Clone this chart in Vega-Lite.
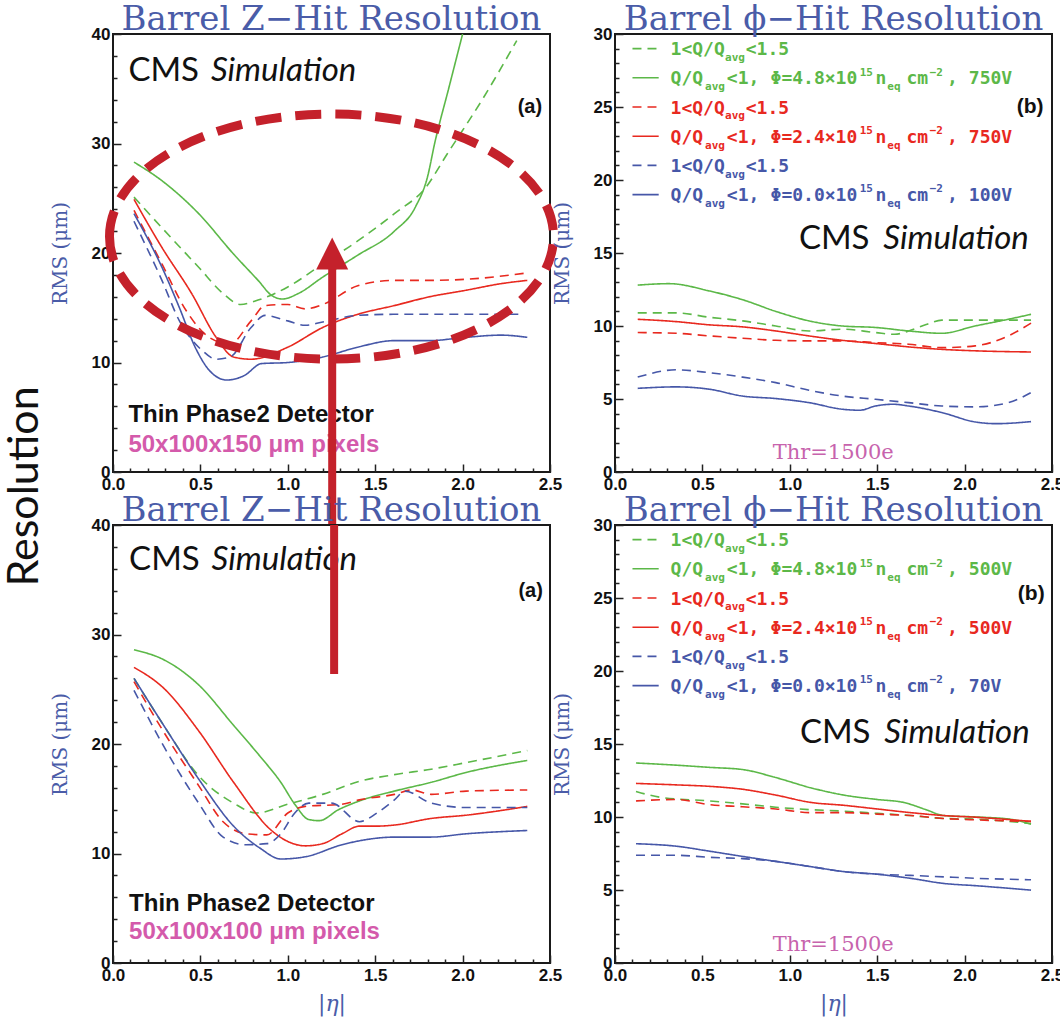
{
"$schema":"https://vega.github.io/schema/vega-lite/v6.json",
"background":"white",
"padding":{"left":4,"top":2,"right":0,"bottom":5},
"title":{"text":"Resolution","orient":"left","anchor":"middle","frame":"bounds","font":"Lato","fontSize":43,"fontWeight":"normal","color":"#111","offset":2,"dx":22},
"datasets":{
"curves":[
{"panel":"TL","dose":"4.8","charge":"lt","eta":0.12,"rms":28.3},{"panel":"TL","dose":"4.8","charge":"lt","eta":0.28,"rms":26.6},{"panel":"TL","dose":"4.8","charge":"lt","eta":0.49,"rms":23.6},{"panel":"TL","dose":"4.8","charge":"lt","eta":0.69,"rms":19.9},{"panel":"TL","dose":"4.8","charge":"lt","eta":0.83,"rms":17.5},{"panel":"TL","dose":"4.8","charge":"lt","eta":0.91,"rms":16.1},{"panel":"TL","dose":"4.8","charge":"lt","eta":0.97,"rms":15.8},{"panel":"TL","dose":"4.8","charge":"lt","eta":1.06,"rms":16.3},{"panel":"TL","dose":"4.8","charge":"lt","eta":1.2,"rms":17.8},{"panel":"TL","dose":"4.8","charge":"lt","eta":1.4,"rms":19.8},{"panel":"TL","dose":"4.8","charge":"lt","eta":1.61,"rms":22.0},{"panel":"TL","dose":"4.8","charge":"lt","eta":1.73,"rms":24.2},{"panel":"TL","dose":"4.8","charge":"lt","eta":1.8,"rms":27.0},{"panel":"TL","dose":"4.8","charge":"lt","eta":1.84,"rms":30.0},{"panel":"TL","dose":"4.8","charge":"lt","eta":1.92,"rms":35.0},{"panel":"TL","dose":"4.8","charge":"lt","eta":2.0,"rms":40.0},
{"panel":"TL","dose":"4.8","charge":"gt","eta":0.12,"rms":25.1},{"panel":"TL","dose":"4.8","charge":"gt","eta":0.28,"rms":22.3},{"panel":"TL","dose":"4.8","charge":"gt","eta":0.49,"rms":18.7},{"panel":"TL","dose":"4.8","charge":"gt","eta":0.63,"rms":16.3},{"panel":"TL","dose":"4.8","charge":"gt","eta":0.73,"rms":15.3},{"panel":"TL","dose":"4.8","charge":"gt","eta":0.83,"rms":15.7},{"panel":"TL","dose":"4.8","charge":"gt","eta":1.0,"rms":16.9},{"panel":"TL","dose":"4.8","charge":"gt","eta":1.2,"rms":19.0},{"panel":"TL","dose":"4.8","charge":"gt","eta":1.4,"rms":21.1},{"panel":"TL","dose":"4.8","charge":"gt","eta":1.61,"rms":23.6},{"panel":"TL","dose":"4.8","charge":"gt","eta":1.79,"rms":26.0},{"panel":"TL","dose":"4.8","charge":"gt","eta":1.91,"rms":29.0},{"panel":"TL","dose":"4.8","charge":"gt","eta":2.12,"rms":34.2},{"panel":"TL","dose":"4.8","charge":"gt","eta":2.31,"rms":39.4},
{"panel":"TL","dose":"2.4","charge":"lt","eta":0.12,"rms":24.9},{"panel":"TL","dose":"2.4","charge":"lt","eta":0.28,"rms":20.5},{"panel":"TL","dose":"2.4","charge":"lt","eta":0.45,"rms":16.3},{"panel":"TL","dose":"2.4","charge":"lt","eta":0.59,"rms":12.3},{"panel":"TL","dose":"2.4","charge":"lt","eta":0.69,"rms":10.5},{"panel":"TL","dose":"2.4","charge":"lt","eta":0.79,"rms":10.3},{"panel":"TL","dose":"2.4","charge":"lt","eta":1.0,"rms":11.4},{"panel":"TL","dose":"2.4","charge":"lt","eta":1.2,"rms":13.2},{"panel":"TL","dose":"2.4","charge":"lt","eta":1.4,"rms":14.4},{"panel":"TL","dose":"2.4","charge":"lt","eta":1.61,"rms":15.2},{"panel":"TL","dose":"2.4","charge":"lt","eta":1.81,"rms":16.0},{"panel":"TL","dose":"2.4","charge":"lt","eta":2.02,"rms":16.6},{"panel":"TL","dose":"2.4","charge":"lt","eta":2.22,"rms":17.2},{"panel":"TL","dose":"2.4","charge":"lt","eta":2.37,"rms":17.5},
{"panel":"TL","dose":"2.4","charge":"gt","eta":0.12,"rms":23.9},{"panel":"TL","dose":"2.4","charge":"gt","eta":0.28,"rms":19.0},{"panel":"TL","dose":"2.4","charge":"gt","eta":0.42,"rms":14.7},{"panel":"TL","dose":"2.4","charge":"gt","eta":0.55,"rms":12.3},{"panel":"TL","dose":"2.4","charge":"gt","eta":0.67,"rms":11.7},{"panel":"TL","dose":"2.4","charge":"gt","eta":0.79,"rms":13.8},{"panel":"TL","dose":"2.4","charge":"gt","eta":0.87,"rms":15.2},{"panel":"TL","dose":"2.4","charge":"gt","eta":1.0,"rms":15.3},{"panel":"TL","dose":"2.4","charge":"gt","eta":1.1,"rms":14.9},{"panel":"TL","dose":"2.4","charge":"gt","eta":1.2,"rms":15.3},{"panel":"TL","dose":"2.4","charge":"gt","eta":1.4,"rms":17.0},{"panel":"TL","dose":"2.4","charge":"gt","eta":1.61,"rms":17.5},{"panel":"TL","dose":"2.4","charge":"gt","eta":1.81,"rms":17.5},{"panel":"TL","dose":"2.4","charge":"gt","eta":2.02,"rms":17.6},{"panel":"TL","dose":"2.4","charge":"gt","eta":2.38,"rms":18.2},
{"panel":"TL","dose":"0.0","charge":"lt","eta":0.12,"rms":23.6},{"panel":"TL","dose":"0.0","charge":"lt","eta":0.28,"rms":18.7},{"panel":"TL","dose":"0.0","charge":"lt","eta":0.38,"rms":15.0},{"panel":"TL","dose":"0.0","charge":"lt","eta":0.47,"rms":11.4},{"panel":"TL","dose":"0.0","charge":"lt","eta":0.55,"rms":9.3},{"panel":"TL","dose":"0.0","charge":"lt","eta":0.65,"rms":8.4},{"panel":"TL","dose":"0.0","charge":"lt","eta":0.75,"rms":8.8},{"panel":"TL","dose":"0.0","charge":"lt","eta":0.85,"rms":9.9},{"panel":"TL","dose":"0.0","charge":"lt","eta":1.0,"rms":10.0},{"panel":"TL","dose":"0.0","charge":"lt","eta":1.2,"rms":10.5},{"panel":"TL","dose":"0.0","charge":"lt","eta":1.4,"rms":11.4},{"panel":"TL","dose":"0.0","charge":"lt","eta":1.61,"rms":12.0},{"panel":"TL","dose":"0.0","charge":"lt","eta":1.81,"rms":12.0},{"panel":"TL","dose":"0.0","charge":"lt","eta":2.02,"rms":12.3},{"panel":"TL","dose":"0.0","charge":"lt","eta":2.22,"rms":12.5},{"panel":"TL","dose":"0.0","charge":"lt","eta":2.37,"rms":12.3},
{"panel":"TL","dose":"0.0","charge":"gt","eta":0.12,"rms":22.9},{"panel":"TL","dose":"0.0","charge":"gt","eta":0.28,"rms":17.5},{"panel":"TL","dose":"0.0","charge":"gt","eta":0.38,"rms":13.8},{"panel":"TL","dose":"0.0","charge":"gt","eta":0.51,"rms":11.1},{"panel":"TL","dose":"0.0","charge":"gt","eta":0.59,"rms":10.3},{"panel":"TL","dose":"0.0","charge":"gt","eta":0.67,"rms":10.5},{"panel":"TL","dose":"0.0","charge":"gt","eta":0.79,"rms":13.2},{"panel":"TL","dose":"0.0","charge":"gt","eta":0.87,"rms":14.3},{"panel":"TL","dose":"0.0","charge":"gt","eta":1.0,"rms":13.8},{"panel":"TL","dose":"0.0","charge":"gt","eta":1.1,"rms":13.4},{"panel":"TL","dose":"0.0","charge":"gt","eta":1.2,"rms":13.7},{"panel":"TL","dose":"0.0","charge":"gt","eta":1.4,"rms":14.3},{"panel":"TL","dose":"0.0","charge":"gt","eta":1.61,"rms":14.4},{"panel":"TL","dose":"0.0","charge":"gt","eta":1.81,"rms":14.4},{"panel":"TL","dose":"0.0","charge":"gt","eta":2.02,"rms":14.4},{"panel":"TL","dose":"0.0","charge":"gt","eta":2.33,"rms":14.4},
{"panel":"TR","dose":"4.8","charge":"lt","eta":0.13,"rms":12.8},{"panel":"TR","dose":"4.8","charge":"lt","eta":0.31,"rms":12.9},{"panel":"TR","dose":"4.8","charge":"lt","eta":0.54,"rms":12.4},{"panel":"TR","dose":"4.8","charge":"lt","eta":0.73,"rms":11.8},{"panel":"TR","dose":"4.8","charge":"lt","eta":0.92,"rms":11.0},{"panel":"TR","dose":"4.8","charge":"lt","eta":1.11,"rms":10.35},{"panel":"TR","dose":"4.8","charge":"lt","eta":1.3,"rms":10.0},{"panel":"TR","dose":"4.8","charge":"lt","eta":1.49,"rms":9.9},{"panel":"TR","dose":"4.8","charge":"lt","eta":1.68,"rms":9.66},{"panel":"TR","dose":"4.8","charge":"lt","eta":1.87,"rms":9.5},{"panel":"TR","dose":"4.8","charge":"lt","eta":2.06,"rms":10.0},{"panel":"TR","dose":"4.8","charge":"lt","eta":2.25,"rms":10.46},{"panel":"TR","dose":"4.8","charge":"lt","eta":2.38,"rms":10.8},
{"panel":"TR","dose":"4.8","charge":"gt","eta":0.13,"rms":10.9},{"panel":"TR","dose":"4.8","charge":"gt","eta":0.35,"rms":10.9},{"panel":"TR","dose":"4.8","charge":"gt","eta":0.54,"rms":10.6},{"panel":"TR","dose":"4.8","charge":"gt","eta":0.73,"rms":10.35},{"panel":"TR","dose":"4.8","charge":"gt","eta":0.92,"rms":10.0},{"panel":"TR","dose":"4.8","charge":"gt","eta":1.11,"rms":9.66},{"panel":"TR","dose":"4.8","charge":"gt","eta":1.3,"rms":9.78},{"panel":"TR","dose":"4.8","charge":"gt","eta":1.49,"rms":9.55},{"panel":"TR","dose":"4.8","charge":"gt","eta":1.6,"rms":9.43},{"panel":"TR","dose":"4.8","charge":"gt","eta":1.68,"rms":9.66},{"panel":"TR","dose":"4.8","charge":"gt","eta":1.78,"rms":10.1},{"panel":"TR","dose":"4.8","charge":"gt","eta":1.87,"rms":10.4},{"panel":"TR","dose":"4.8","charge":"gt","eta":2.06,"rms":10.4},{"panel":"TR","dose":"4.8","charge":"gt","eta":2.38,"rms":10.4},
{"panel":"TR","dose":"2.4","charge":"lt","eta":0.13,"rms":10.46},{"panel":"TR","dose":"2.4","charge":"lt","eta":0.35,"rms":10.3},{"panel":"TR","dose":"2.4","charge":"lt","eta":0.54,"rms":10.08},{"panel":"TR","dose":"2.4","charge":"lt","eta":0.73,"rms":9.94},{"panel":"TR","dose":"2.4","charge":"lt","eta":0.92,"rms":9.66},{"panel":"TR","dose":"2.4","charge":"lt","eta":1.11,"rms":9.32},{"panel":"TR","dose":"2.4","charge":"lt","eta":1.3,"rms":9.02},{"panel":"TR","dose":"2.4","charge":"lt","eta":1.49,"rms":8.8},{"panel":"TR","dose":"2.4","charge":"lt","eta":1.68,"rms":8.57},{"panel":"TR","dose":"2.4","charge":"lt","eta":1.87,"rms":8.4},{"panel":"TR","dose":"2.4","charge":"lt","eta":2.06,"rms":8.3},{"panel":"TR","dose":"2.4","charge":"lt","eta":2.38,"rms":8.22},
{"panel":"TR","dose":"2.4","charge":"gt","eta":0.13,"rms":9.55},{"panel":"TR","dose":"2.4","charge":"gt","eta":0.35,"rms":9.5},{"panel":"TR","dose":"2.4","charge":"gt","eta":0.54,"rms":9.32},{"panel":"TR","dose":"2.4","charge":"gt","eta":0.73,"rms":9.16},{"panel":"TR","dose":"2.4","charge":"gt","eta":0.92,"rms":9.02},{"panel":"TR","dose":"2.4","charge":"gt","eta":1.11,"rms":8.98},{"panel":"TR","dose":"2.4","charge":"gt","eta":1.3,"rms":8.98},{"panel":"TR","dose":"2.4","charge":"gt","eta":1.49,"rms":8.86},{"panel":"TR","dose":"2.4","charge":"gt","eta":1.68,"rms":8.75},{"panel":"TR","dose":"2.4","charge":"gt","eta":1.87,"rms":8.52},{"panel":"TR","dose":"2.4","charge":"gt","eta":2.06,"rms":8.64},{"panel":"TR","dose":"2.4","charge":"gt","eta":2.25,"rms":9.32},{"panel":"TR","dose":"2.4","charge":"gt","eta":2.38,"rms":10.2},
{"panel":"TR","dose":"0.0","charge":"lt","eta":0.13,"rms":5.73},{"panel":"TR","dose":"0.0","charge":"lt","eta":0.35,"rms":5.83},{"panel":"TR","dose":"0.0","charge":"lt","eta":0.54,"rms":5.67},{"panel":"TR","dose":"0.0","charge":"lt","eta":0.73,"rms":5.2},{"panel":"TR","dose":"0.0","charge":"lt","eta":0.92,"rms":5.03},{"panel":"TR","dose":"0.0","charge":"lt","eta":1.11,"rms":4.75},{"panel":"TR","dose":"0.0","charge":"lt","eta":1.3,"rms":4.3},{"panel":"TR","dose":"0.0","charge":"lt","eta":1.4,"rms":4.23},{"panel":"TR","dose":"0.0","charge":"lt","eta":1.49,"rms":4.52},{"panel":"TR","dose":"0.0","charge":"lt","eta":1.59,"rms":4.64},{"panel":"TR","dose":"0.0","charge":"lt","eta":1.68,"rms":4.52},{"panel":"TR","dose":"0.0","charge":"lt","eta":1.87,"rms":4.07},{"panel":"TR","dose":"0.0","charge":"lt","eta":2.06,"rms":3.43},{"panel":"TR","dose":"0.0","charge":"lt","eta":2.18,"rms":3.31},{"panel":"TR","dose":"0.0","charge":"lt","eta":2.38,"rms":3.45},
{"panel":"TR","dose":"0.0","charge":"gt","eta":0.13,"rms":6.5},{"panel":"TR","dose":"0.0","charge":"gt","eta":0.35,"rms":7.0},{"panel":"TR","dose":"0.0","charge":"gt","eta":0.54,"rms":6.8},{"panel":"TR","dose":"0.0","charge":"gt","eta":0.73,"rms":6.5},{"panel":"TR","dose":"0.0","charge":"gt","eta":0.92,"rms":6.12},{"panel":"TR","dose":"0.0","charge":"gt","eta":1.11,"rms":5.6},{"panel":"TR","dose":"0.0","charge":"gt","eta":1.3,"rms":5.2},{"panel":"TR","dose":"0.0","charge":"gt","eta":1.49,"rms":4.98},{"panel":"TR","dose":"0.0","charge":"gt","eta":1.68,"rms":4.75},{"panel":"TR","dose":"0.0","charge":"gt","eta":1.87,"rms":4.52},{"panel":"TR","dose":"0.0","charge":"gt","eta":2.06,"rms":4.46},{"panel":"TR","dose":"0.0","charge":"gt","eta":2.25,"rms":4.75},{"panel":"TR","dose":"0.0","charge":"gt","eta":2.38,"rms":5.44},
{"panel":"BL","dose":"4.8","charge":"lt","eta":0.12,"rms":28.6},{"panel":"BL","dose":"4.8","charge":"lt","eta":0.29,"rms":27.7},{"panel":"BL","dose":"4.8","charge":"lt","eta":0.49,"rms":25.4},{"panel":"BL","dose":"4.8","charge":"lt","eta":0.69,"rms":21.7},{"panel":"BL","dose":"4.8","charge":"lt","eta":0.84,"rms":18.9},{"panel":"BL","dose":"4.8","charge":"lt","eta":0.96,"rms":16.5},{"panel":"BL","dose":"4.8","charge":"lt","eta":1.04,"rms":14.5},{"panel":"BL","dose":"4.8","charge":"lt","eta":1.12,"rms":13.1},{"panel":"BL","dose":"4.8","charge":"lt","eta":1.18,"rms":13.0},{"panel":"BL","dose":"4.8","charge":"lt","eta":1.29,"rms":14.0},{"panel":"BL","dose":"4.8","charge":"lt","eta":1.41,"rms":14.8},{"panel":"BL","dose":"4.8","charge":"lt","eta":1.61,"rms":15.7},{"panel":"BL","dose":"4.8","charge":"lt","eta":1.82,"rms":16.5},{"panel":"BL","dose":"4.8","charge":"lt","eta":2.02,"rms":17.4},{"panel":"BL","dose":"4.8","charge":"lt","eta":2.37,"rms":18.5},
{"panel":"BL","dose":"4.8","charge":"gt","eta":0.12,"rms":26.0},{"panel":"BL","dose":"4.8","charge":"gt","eta":0.29,"rms":21.7},{"panel":"BL","dose":"4.8","charge":"gt","eta":0.49,"rms":17.1},{"panel":"BL","dose":"4.8","charge":"gt","eta":0.69,"rms":14.6},{"panel":"BL","dose":"4.8","charge":"gt","eta":0.82,"rms":13.7},{"panel":"BL","dose":"4.8","charge":"gt","eta":1.0,"rms":14.5},{"panel":"BL","dose":"4.8","charge":"gt","eta":1.2,"rms":15.4},{"panel":"BL","dose":"4.8","charge":"gt","eta":1.41,"rms":16.6},{"panel":"BL","dose":"4.8","charge":"gt","eta":1.61,"rms":17.2},{"panel":"BL","dose":"4.8","charge":"gt","eta":1.82,"rms":17.7},{"panel":"BL","dose":"4.8","charge":"gt","eta":2.02,"rms":18.3},{"panel":"BL","dose":"4.8","charge":"gt","eta":2.37,"rms":19.4},
{"panel":"BL","dose":"2.4","charge":"lt","eta":0.12,"rms":27.0},{"panel":"BL","dose":"2.4","charge":"lt","eta":0.29,"rms":25.1},{"panel":"BL","dose":"2.4","charge":"lt","eta":0.49,"rms":21.2},{"panel":"BL","dose":"2.4","charge":"lt","eta":0.69,"rms":16.5},{"panel":"BL","dose":"2.4","charge":"lt","eta":0.9,"rms":12.2},{"panel":"BL","dose":"2.4","charge":"lt","eta":1.0,"rms":11.1},{"panel":"BL","dose":"2.4","charge":"lt","eta":1.1,"rms":10.7},{"panel":"BL","dose":"2.4","charge":"lt","eta":1.2,"rms":10.9},{"panel":"BL","dose":"2.4","charge":"lt","eta":1.31,"rms":11.8},{"panel":"BL","dose":"2.4","charge":"lt","eta":1.41,"rms":12.5},{"panel":"BL","dose":"2.4","charge":"lt","eta":1.51,"rms":12.5},{"panel":"BL","dose":"2.4","charge":"lt","eta":1.61,"rms":12.6},{"panel":"BL","dose":"2.4","charge":"lt","eta":1.82,"rms":13.2},{"panel":"BL","dose":"2.4","charge":"lt","eta":2.02,"rms":13.5},{"panel":"BL","dose":"2.4","charge":"lt","eta":2.37,"rms":14.3},
{"panel":"BL","dose":"2.4","charge":"gt","eta":0.12,"rms":25.7},{"panel":"BL","dose":"2.4","charge":"gt","eta":0.29,"rms":21.1},{"panel":"BL","dose":"2.4","charge":"gt","eta":0.49,"rms":16.2},{"panel":"BL","dose":"2.4","charge":"gt","eta":0.63,"rms":12.9},{"panel":"BL","dose":"2.4","charge":"gt","eta":0.76,"rms":11.8},{"panel":"BL","dose":"2.4","charge":"gt","eta":0.88,"rms":11.7},{"panel":"BL","dose":"2.4","charge":"gt","eta":1.0,"rms":13.7},{"panel":"BL","dose":"2.4","charge":"gt","eta":1.1,"rms":14.3},{"panel":"BL","dose":"2.4","charge":"gt","eta":1.31,"rms":14.5},{"panel":"BL","dose":"2.4","charge":"gt","eta":1.41,"rms":14.9},{"panel":"BL","dose":"2.4","charge":"gt","eta":1.61,"rms":15.4},{"panel":"BL","dose":"2.4","charge":"gt","eta":1.71,"rms":15.8},{"panel":"BL","dose":"2.4","charge":"gt","eta":1.82,"rms":15.4},{"panel":"BL","dose":"2.4","charge":"gt","eta":2.02,"rms":15.7},{"panel":"BL","dose":"2.4","charge":"gt","eta":2.37,"rms":15.8},
{"panel":"BL","dose":"0.0","charge":"lt","eta":0.12,"rms":26.0},{"panel":"BL","dose":"0.0","charge":"lt","eta":0.29,"rms":21.7},{"panel":"BL","dose":"0.0","charge":"lt","eta":0.49,"rms":16.8},{"panel":"BL","dose":"0.0","charge":"lt","eta":0.69,"rms":12.5},{"panel":"BL","dose":"0.0","charge":"lt","eta":0.84,"rms":10.5},{"panel":"BL","dose":"0.0","charge":"lt","eta":0.96,"rms":9.5},{"panel":"BL","dose":"0.0","charge":"lt","eta":1.1,"rms":9.7},{"panel":"BL","dose":"0.0","charge":"lt","eta":1.31,"rms":10.8},{"panel":"BL","dose":"0.0","charge":"lt","eta":1.51,"rms":11.4},{"panel":"BL","dose":"0.0","charge":"lt","eta":1.61,"rms":11.5},{"panel":"BL","dose":"0.0","charge":"lt","eta":1.82,"rms":11.5},{"panel":"BL","dose":"0.0","charge":"lt","eta":2.02,"rms":11.8},{"panel":"BL","dose":"0.0","charge":"lt","eta":2.37,"rms":12.1},
{"panel":"BL","dose":"0.0","charge":"gt","eta":0.12,"rms":24.9},{"panel":"BL","dose":"0.0","charge":"gt","eta":0.29,"rms":19.8},{"panel":"BL","dose":"0.0","charge":"gt","eta":0.49,"rms":14.6},{"panel":"BL","dose":"0.0","charge":"gt","eta":0.63,"rms":11.5},{"panel":"BL","dose":"0.0","charge":"gt","eta":0.76,"rms":10.8},{"panel":"BL","dose":"0.0","charge":"gt","eta":0.88,"rms":10.9},{"panel":"BL","dose":"0.0","charge":"gt","eta":0.96,"rms":11.8},{"panel":"BL","dose":"0.0","charge":"gt","eta":1.04,"rms":13.7},{"panel":"BL","dose":"0.0","charge":"gt","eta":1.12,"rms":14.6},{"panel":"BL","dose":"0.0","charge":"gt","eta":1.25,"rms":14.6},{"panel":"BL","dose":"0.0","charge":"gt","eta":1.41,"rms":12.9},{"panel":"BL","dose":"0.0","charge":"gt","eta":1.51,"rms":13.7},{"panel":"BL","dose":"0.0","charge":"gt","eta":1.61,"rms":14.9},{"panel":"BL","dose":"0.0","charge":"gt","eta":1.67,"rms":15.7},{"panel":"BL","dose":"0.0","charge":"gt","eta":1.82,"rms":14.6},{"panel":"BL","dose":"0.0","charge":"gt","eta":2.02,"rms":14.2},{"panel":"BL","dose":"0.0","charge":"gt","eta":2.37,"rms":14.2},
{"panel":"BR","dose":"4.8","charge":"lt","eta":0.12,"rms":13.7},{"panel":"BR","dose":"4.8","charge":"lt","eta":0.35,"rms":13.55},{"panel":"BR","dose":"4.8","charge":"lt","eta":0.54,"rms":13.4},{"panel":"BR","dose":"4.8","charge":"lt","eta":0.73,"rms":13.25},{"panel":"BR","dose":"4.8","charge":"lt","eta":0.92,"rms":12.7},{"panel":"BR","dose":"4.8","charge":"lt","eta":1.12,"rms":12.0},{"panel":"BR","dose":"4.8","charge":"lt","eta":1.31,"rms":11.5},{"panel":"BR","dose":"4.8","charge":"lt","eta":1.5,"rms":11.2},{"panel":"BR","dose":"4.8","charge":"lt","eta":1.65,"rms":11.0},{"panel":"BR","dose":"4.8","charge":"lt","eta":1.78,"rms":10.5},{"panel":"BR","dose":"4.8","charge":"lt","eta":1.88,"rms":10.1},{"panel":"BR","dose":"4.8","charge":"lt","eta":2.07,"rms":10.0},{"panel":"BR","dose":"4.8","charge":"lt","eta":2.26,"rms":9.85},{"panel":"BR","dose":"4.8","charge":"lt","eta":2.38,"rms":9.5},
{"panel":"BR","dose":"4.8","charge":"gt","eta":0.12,"rms":11.75},{"panel":"BR","dose":"4.8","charge":"gt","eta":0.26,"rms":11.35},{"panel":"BR","dose":"4.8","charge":"gt","eta":0.54,"rms":11.1},{"panel":"BR","dose":"4.8","charge":"gt","eta":0.73,"rms":10.9},{"panel":"BR","dose":"4.8","charge":"gt","eta":0.92,"rms":10.67},{"panel":"BR","dose":"4.8","charge":"gt","eta":1.12,"rms":10.5},{"panel":"BR","dose":"4.8","charge":"gt","eta":1.31,"rms":10.4},{"panel":"BR","dose":"4.8","charge":"gt","eta":1.5,"rms":10.25},{"panel":"BR","dose":"4.8","charge":"gt","eta":1.69,"rms":10.1},{"panel":"BR","dose":"4.8","charge":"gt","eta":1.88,"rms":9.9},{"panel":"BR","dose":"4.8","charge":"gt","eta":2.07,"rms":9.85},{"panel":"BR","dose":"4.8","charge":"gt","eta":2.38,"rms":9.55},
{"panel":"BR","dose":"2.4","charge":"lt","eta":0.12,"rms":12.3},{"panel":"BR","dose":"2.4","charge":"lt","eta":0.35,"rms":12.2},{"panel":"BR","dose":"2.4","charge":"lt","eta":0.54,"rms":12.1},{"panel":"BR","dose":"2.4","charge":"lt","eta":0.73,"rms":11.9},{"panel":"BR","dose":"2.4","charge":"lt","eta":0.92,"rms":11.5},{"panel":"BR","dose":"2.4","charge":"lt","eta":1.12,"rms":11.0},{"panel":"BR","dose":"2.4","charge":"lt","eta":1.31,"rms":10.8},{"panel":"BR","dose":"2.4","charge":"lt","eta":1.5,"rms":10.55},{"panel":"BR","dose":"2.4","charge":"lt","eta":1.69,"rms":10.3},{"panel":"BR","dose":"2.4","charge":"lt","eta":1.88,"rms":10.1},{"panel":"BR","dose":"2.4","charge":"lt","eta":2.07,"rms":9.98},{"panel":"BR","dose":"2.4","charge":"lt","eta":2.38,"rms":9.7},
{"panel":"BR","dose":"2.4","charge":"gt","eta":0.12,"rms":11.1},{"panel":"BR","dose":"2.4","charge":"gt","eta":0.35,"rms":11.2},{"panel":"BR","dose":"2.4","charge":"gt","eta":0.54,"rms":10.85},{"panel":"BR","dose":"2.4","charge":"gt","eta":0.73,"rms":10.7},{"panel":"BR","dose":"2.4","charge":"gt","eta":0.92,"rms":10.55},{"panel":"BR","dose":"2.4","charge":"gt","eta":1.12,"rms":10.3},{"panel":"BR","dose":"2.4","charge":"gt","eta":1.31,"rms":10.3},{"panel":"BR","dose":"2.4","charge":"gt","eta":1.5,"rms":10.2},{"panel":"BR","dose":"2.4","charge":"gt","eta":1.69,"rms":10.1},{"panel":"BR","dose":"2.4","charge":"gt","eta":1.88,"rms":9.9},{"panel":"BR","dose":"2.4","charge":"gt","eta":2.07,"rms":9.8},{"panel":"BR","dose":"2.4","charge":"gt","eta":2.38,"rms":9.7},
{"panel":"BR","dose":"0.0","charge":"lt","eta":0.12,"rms":8.17},{"panel":"BR","dose":"0.0","charge":"lt","eta":0.35,"rms":8.0},{"panel":"BR","dose":"0.0","charge":"lt","eta":0.54,"rms":7.66},{"panel":"BR","dose":"0.0","charge":"lt","eta":0.73,"rms":7.3},{"panel":"BR","dose":"0.0","charge":"lt","eta":0.92,"rms":6.96},{"panel":"BR","dose":"0.0","charge":"lt","eta":1.12,"rms":6.6},{"panel":"BR","dose":"0.0","charge":"lt","eta":1.31,"rms":6.26},{"panel":"BR","dose":"0.0","charge":"lt","eta":1.5,"rms":6.08},{"panel":"BR","dose":"0.0","charge":"lt","eta":1.69,"rms":5.8},{"panel":"BR","dose":"0.0","charge":"lt","eta":1.88,"rms":5.45},{"panel":"BR","dose":"0.0","charge":"lt","eta":2.07,"rms":5.29},{"panel":"BR","dose":"0.0","charge":"lt","eta":2.38,"rms":4.99},
{"panel":"BR","dose":"0.0","charge":"gt","eta":0.12,"rms":7.38},{"panel":"BR","dose":"0.0","charge":"gt","eta":0.35,"rms":7.38},{"panel":"BR","dose":"0.0","charge":"gt","eta":0.54,"rms":7.24},{"panel":"BR","dose":"0.0","charge":"gt","eta":0.73,"rms":7.15},{"panel":"BR","dose":"0.0","charge":"gt","eta":0.92,"rms":6.96},{"panel":"BR","dose":"0.0","charge":"gt","eta":1.12,"rms":6.6},{"panel":"BR","dose":"0.0","charge":"gt","eta":1.31,"rms":6.26},{"panel":"BR","dose":"0.0","charge":"gt","eta":1.5,"rms":6.08},{"panel":"BR","dose":"0.0","charge":"gt","eta":1.69,"rms":6.0},{"panel":"BR","dose":"0.0","charge":"gt","eta":1.88,"rms":5.9},{"panel":"BR","dose":"0.0","charge":"gt","eta":2.07,"rms":5.8},{"panel":"BR","dose":"0.0","charge":"gt","eta":2.38,"rms":5.7}
],
"keys":[
{"panel":"TR","dose":"4.8","charge":"gt","eta":0.1,"rms":29},{"panel":"TR","dose":"4.8","charge":"gt","eta":0.25,"rms":29},
{"panel":"TR","dose":"4.8","charge":"lt","eta":0.1,"rms":27},{"panel":"TR","dose":"4.8","charge":"lt","eta":0.25,"rms":27},
{"panel":"TR","dose":"2.4","charge":"gt","eta":0.1,"rms":25},{"panel":"TR","dose":"2.4","charge":"gt","eta":0.25,"rms":25},
{"panel":"TR","dose":"2.4","charge":"lt","eta":0.1,"rms":23},{"panel":"TR","dose":"2.4","charge":"lt","eta":0.25,"rms":23},
{"panel":"TR","dose":"0.0","charge":"gt","eta":0.1,"rms":21},{"panel":"TR","dose":"0.0","charge":"gt","eta":0.25,"rms":21},
{"panel":"TR","dose":"0.0","charge":"lt","eta":0.1,"rms":19},{"panel":"TR","dose":"0.0","charge":"lt","eta":0.25,"rms":19},
{"panel":"BR","dose":"4.8","charge":"gt","eta":0.1,"rms":29},{"panel":"BR","dose":"4.8","charge":"gt","eta":0.25,"rms":29},
{"panel":"BR","dose":"4.8","charge":"lt","eta":0.1,"rms":27},{"panel":"BR","dose":"4.8","charge":"lt","eta":0.25,"rms":27},
{"panel":"BR","dose":"2.4","charge":"gt","eta":0.1,"rms":25},{"panel":"BR","dose":"2.4","charge":"gt","eta":0.25,"rms":25},
{"panel":"BR","dose":"2.4","charge":"lt","eta":0.1,"rms":23},{"panel":"BR","dose":"2.4","charge":"lt","eta":0.25,"rms":23},
{"panel":"BR","dose":"0.0","charge":"gt","eta":0.1,"rms":21},{"panel":"BR","dose":"0.0","charge":"gt","eta":0.25,"rms":21},
{"panel":"BR","dose":"0.0","charge":"lt","eta":0.1,"rms":19},{"panel":"BR","dose":"0.0","charge":"lt","eta":0.25,"rms":19}
],
"keytext":[
{"panel":"TR","dose":"4.8","kind":"main","eta":0.318,"rms":28.55,"label":"1<Q/Q"},{"panel":"TR","dose":"4.8","kind":"small","eta":0.63,"rms":28.15,"label":"avg"},{"panel":"TR","dose":"4.8","kind":"main","eta":0.748,"rms":28.55,"label":"<1.5"},
{"panel":"TR","dose":"4.8","kind":"main","eta":0.318,"rms":26.55,"label":"Q/Q"},{"panel":"TR","dose":"4.8","kind":"small","eta":0.515,"rms":26.15,"label":"avg"},{"panel":"TR","dose":"4.8","kind":"main","eta":0.64,"rms":26.55,"label":"<1,"},{"panel":"TR","dose":"4.8","kind":"main","eta":0.89,"rms":26.55,"label":"Φ=4.8×10"},{"panel":"TR","dose":"4.8","kind":"small","eta":1.4,"rms":27.15,"label":"15"},{"panel":"TR","dose":"4.8","kind":"main","eta":1.49,"rms":26.55,"label":"n"},{"panel":"TR","dose":"4.8","kind":"small","eta":1.558,"rms":26.15,"label":"eq"},{"panel":"TR","dose":"4.8","kind":"main","eta":1.667,"rms":26.55,"label":"cm"},{"panel":"TR","dose":"4.8","kind":"small","eta":1.8,"rms":27.15,"label":"−2"},{"panel":"TR","dose":"4.8","kind":"main","eta":1.9,"rms":26.55,"label":", 750V"},
{"panel":"TR","dose":"2.4","kind":"main","eta":0.318,"rms":24.55,"label":"1<Q/Q"},{"panel":"TR","dose":"2.4","kind":"small","eta":0.63,"rms":24.15,"label":"avg"},{"panel":"TR","dose":"2.4","kind":"main","eta":0.748,"rms":24.55,"label":"<1.5"},
{"panel":"TR","dose":"2.4","kind":"main","eta":0.318,"rms":22.55,"label":"Q/Q"},{"panel":"TR","dose":"2.4","kind":"small","eta":0.515,"rms":22.15,"label":"avg"},{"panel":"TR","dose":"2.4","kind":"main","eta":0.64,"rms":22.55,"label":"<1,"},{"panel":"TR","dose":"2.4","kind":"main","eta":0.89,"rms":22.55,"label":"Φ=2.4×10"},{"panel":"TR","dose":"2.4","kind":"small","eta":1.4,"rms":23.15,"label":"15"},{"panel":"TR","dose":"2.4","kind":"main","eta":1.49,"rms":22.55,"label":"n"},{"panel":"TR","dose":"2.4","kind":"small","eta":1.558,"rms":22.15,"label":"eq"},{"panel":"TR","dose":"2.4","kind":"main","eta":1.667,"rms":22.55,"label":"cm"},{"panel":"TR","dose":"2.4","kind":"small","eta":1.8,"rms":23.15,"label":"−2"},{"panel":"TR","dose":"2.4","kind":"main","eta":1.9,"rms":22.55,"label":", 750V"},
{"panel":"TR","dose":"0.0","kind":"main","eta":0.318,"rms":20.55,"label":"1<Q/Q"},{"panel":"TR","dose":"0.0","kind":"small","eta":0.63,"rms":20.15,"label":"avg"},{"panel":"TR","dose":"0.0","kind":"main","eta":0.748,"rms":20.55,"label":"<1.5"},
{"panel":"TR","dose":"0.0","kind":"main","eta":0.318,"rms":18.55,"label":"Q/Q"},{"panel":"TR","dose":"0.0","kind":"small","eta":0.515,"rms":18.15,"label":"avg"},{"panel":"TR","dose":"0.0","kind":"main","eta":0.64,"rms":18.55,"label":"<1,"},{"panel":"TR","dose":"0.0","kind":"main","eta":0.89,"rms":18.55,"label":"Φ=0.0×10"},{"panel":"TR","dose":"0.0","kind":"small","eta":1.4,"rms":19.15,"label":"15"},{"panel":"TR","dose":"0.0","kind":"main","eta":1.49,"rms":18.55,"label":"n"},{"panel":"TR","dose":"0.0","kind":"small","eta":1.558,"rms":18.15,"label":"eq"},{"panel":"TR","dose":"0.0","kind":"main","eta":1.667,"rms":18.55,"label":"cm"},{"panel":"TR","dose":"0.0","kind":"small","eta":1.8,"rms":19.15,"label":"−2"},{"panel":"TR","dose":"0.0","kind":"main","eta":1.9,"rms":18.55,"label":", 100V"},
{"panel":"BR","dose":"4.8","kind":"main","eta":0.318,"rms":28.55,"label":"1<Q/Q"},{"panel":"BR","dose":"4.8","kind":"small","eta":0.63,"rms":28.15,"label":"avg"},{"panel":"BR","dose":"4.8","kind":"main","eta":0.748,"rms":28.55,"label":"<1.5"},
{"panel":"BR","dose":"4.8","kind":"main","eta":0.318,"rms":26.55,"label":"Q/Q"},{"panel":"BR","dose":"4.8","kind":"small","eta":0.515,"rms":26.15,"label":"avg"},{"panel":"BR","dose":"4.8","kind":"main","eta":0.64,"rms":26.55,"label":"<1,"},{"panel":"BR","dose":"4.8","kind":"main","eta":0.89,"rms":26.55,"label":"Φ=4.8×10"},{"panel":"BR","dose":"4.8","kind":"small","eta":1.4,"rms":27.15,"label":"15"},{"panel":"BR","dose":"4.8","kind":"main","eta":1.49,"rms":26.55,"label":"n"},{"panel":"BR","dose":"4.8","kind":"small","eta":1.558,"rms":26.15,"label":"eq"},{"panel":"BR","dose":"4.8","kind":"main","eta":1.667,"rms":26.55,"label":"cm"},{"panel":"BR","dose":"4.8","kind":"small","eta":1.8,"rms":27.15,"label":"−2"},{"panel":"BR","dose":"4.8","kind":"main","eta":1.9,"rms":26.55,"label":", 500V"},
{"panel":"BR","dose":"2.4","kind":"main","eta":0.318,"rms":24.55,"label":"1<Q/Q"},{"panel":"BR","dose":"2.4","kind":"small","eta":0.63,"rms":24.15,"label":"avg"},{"panel":"BR","dose":"2.4","kind":"main","eta":0.748,"rms":24.55,"label":"<1.5"},
{"panel":"BR","dose":"2.4","kind":"main","eta":0.318,"rms":22.55,"label":"Q/Q"},{"panel":"BR","dose":"2.4","kind":"small","eta":0.515,"rms":22.15,"label":"avg"},{"panel":"BR","dose":"2.4","kind":"main","eta":0.64,"rms":22.55,"label":"<1,"},{"panel":"BR","dose":"2.4","kind":"main","eta":0.89,"rms":22.55,"label":"Φ=2.4×10"},{"panel":"BR","dose":"2.4","kind":"small","eta":1.4,"rms":23.15,"label":"15"},{"panel":"BR","dose":"2.4","kind":"main","eta":1.49,"rms":22.55,"label":"n"},{"panel":"BR","dose":"2.4","kind":"small","eta":1.558,"rms":22.15,"label":"eq"},{"panel":"BR","dose":"2.4","kind":"main","eta":1.667,"rms":22.55,"label":"cm"},{"panel":"BR","dose":"2.4","kind":"small","eta":1.8,"rms":23.15,"label":"−2"},{"panel":"BR","dose":"2.4","kind":"main","eta":1.9,"rms":22.55,"label":", 500V"},
{"panel":"BR","dose":"0.0","kind":"main","eta":0.318,"rms":20.55,"label":"1<Q/Q"},{"panel":"BR","dose":"0.0","kind":"small","eta":0.63,"rms":20.15,"label":"avg"},{"panel":"BR","dose":"0.0","kind":"main","eta":0.748,"rms":20.55,"label":"<1.5"},
{"panel":"BR","dose":"0.0","kind":"main","eta":0.318,"rms":18.55,"label":"Q/Q"},{"panel":"BR","dose":"0.0","kind":"small","eta":0.515,"rms":18.15,"label":"avg"},{"panel":"BR","dose":"0.0","kind":"main","eta":0.64,"rms":18.55,"label":"<1,"},{"panel":"BR","dose":"0.0","kind":"main","eta":0.89,"rms":18.55,"label":"Φ=0.0×10"},{"panel":"BR","dose":"0.0","kind":"small","eta":1.4,"rms":19.15,"label":"15"},{"panel":"BR","dose":"0.0","kind":"main","eta":1.49,"rms":18.55,"label":"n"},{"panel":"BR","dose":"0.0","kind":"small","eta":1.558,"rms":18.15,"label":"eq"},{"panel":"BR","dose":"0.0","kind":"main","eta":1.667,"rms":18.55,"label":"cm"},{"panel":"BR","dose":"0.0","kind":"small","eta":1.8,"rms":19.15,"label":"−2"},{"panel":"BR","dose":"0.0","kind":"main","eta":1.9,"rms":18.55,"label":", 70V"}
]
},
"columns":2,
"spacing":{"row":53,"column":65},
"bounds":"flush",
"concat":[
{
"width":437,"height":438,
"title":{"text":"Barrel Z−Hit Resolution"},
"encoding":{
"x":{"field":"eta","type":"quantitative","scale":{"domain":[0,2.5],"nice":false,"zero":false},"axis":{"values":[0,0.1,0.2,0.3,0.4,0.5,0.6,0.7,0.8,0.9,1,1.1,1.2,1.3,1.4,1.5,1.6,1.7,1.8,1.9,2,2.1,2.2,2.3,2.4,2.5],"labelExpr":"abs(datum.value*2-round(datum.value*2))<0.01 ? format(datum.value,'.1f') : ''","tickSize":{"condition":{"test":"abs(datum.value*2-round(datum.value*2))<0.01","value":-8},"value":-4},"labelPadding":12,"labelFlush":false,"labelOverlap":false,"title":null}},
"y":{"field":"rms","type":"quantitative","scale":{"domain":[0,40],"nice":false,"zero":false},"axis":{"values":[0,2,4,6,8,10,12,14,16,18,20,22,24,26,28,30,32,34,36,38,40],"labelExpr":"datum.value%10===0 ? format(datum.value,'d') : ''","tickSize":{"condition":{"test":"datum.value%10===0","value":-8},"value":-4},"labelPadding":11,"labelFlush":false,"labelOverlap":false,"title":"RMS (μm)","titlePadding":21}}
},
"layer":[
{"data":{"name":"curves"},"transform":[{"filter":"datum.panel==='TL'"}],"mark":{"type":"line","interpolate":"monotone","strokeWidth":1.6,"clip":true},"encoding":{"color":{"field":"dose","type":"nominal","scale":{"domain":["4.8","2.4","0.0"],"range":["#5cb848","#e8291f","#4657a8"]},"legend":null},"strokeDash":{"field":"charge","type":"nominal","scale":{"domain":["lt","gt"],"range":[[1,0],[9,6]]},"legend":null}}},
{"data":{"values":[{"eta":0.088,"rms":35.7,"label":"CMS"}]},"mark":{"type":"text","font":"Lato","fontSize":33,"align":"left","baseline":"alphabetic","color":"#111"},"encoding":{"text":{"field":"label","type":"nominal"}}},
{"data":{"values":[{"eta":0.56,"rms":35.7,"label":"Simulation"}]},"mark":{"type":"text","font":"Lato","fontSize":33,"fontStyle":"italic","align":"left","baseline":"alphabetic","color":"#111"},"encoding":{"text":{"field":"label","type":"nominal"}}},
{"data":{"values":[{"eta":2.455,"rms":33.3,"label":"(a)"}]},"mark":{"type":"text","font":"Liberation Sans","fontSize":20,"fontWeight":"bold","align":"right","baseline":"middle","color":"#111"},"encoding":{"text":{"field":"label","type":"nominal"}}},
{"data":{"values":[{"eta":0.088,"rms":4.56,"label":"Thin Phase2 Detector"}]},"mark":{"type":"text","font":"Liberation Sans","fontSize":24,"fontWeight":"bold","align":"left","baseline":"alphabetic","color":"#111"},"encoding":{"text":{"field":"label","type":"nominal"}}},
{"data":{"values":[{"eta":0.088,"rms":1.82,"label":"50x100x150 μm pixels"}]},"mark":{"type":"text","font":"Liberation Sans","fontSize":24,"fontWeight":"bold","align":"left","baseline":"alphabetic","color":"#d45aab"},"encoding":{"text":{"field":"label","type":"nominal"}}},
{"data":{"values":[{"eta":1.25,"rms":21.5}]},"mark":{"type":"point","shape":"M -1 0 C -1 -0.305 -0.552 -0.552 0 -0.552 C 0.552 -0.552 1 -0.305 1 0 C 1 0.305 0.552 0.552 0 0.552 C -0.552 0.552 -1 0.305 -1 0 Z","size":197136,"filled":false,"stroke":"#c4212b","strokeWidth":9,"strokeDash":[26,14],"opacity":1}},
{"data":{"values":[{"eta":1.254,"rms":-4.9,"rms2":18.9}]},"mark":{"type":"rule","strokeWidth":8,"color":"#c4212b"},"encoding":{"y2":{"field":"rms2"}}},
{"data":{"values":[{"eta":1.254,"rms":19.95}]},"mark":{"type":"point","shape":"M 0 -1 L 1 1 L -1 1 Z","size":1024,"filled":true,"color":"#c4212b","opacity":1}}
]
},
{
"width":437,"height":438,
"title":{"text":"Barrel ϕ−Hit Resolution"},
"encoding":{
"x":{"field":"eta","type":"quantitative","scale":{"domain":[0,2.5],"nice":false,"zero":false},"axis":{"values":[0,0.1,0.2,0.3,0.4,0.5,0.6,0.7,0.8,0.9,1,1.1,1.2,1.3,1.4,1.5,1.6,1.7,1.8,1.9,2,2.1,2.2,2.3,2.4,2.5],"labelExpr":"abs(datum.value*2-round(datum.value*2))<0.01 ? format(datum.value,'.1f') : ''","tickSize":{"condition":{"test":"abs(datum.value*2-round(datum.value*2))<0.01","value":-8},"value":-4},"labelPadding":12,"labelFlush":false,"labelOverlap":false,"title":null}},
"y":{"field":"rms","type":"quantitative","scale":{"domain":[0,30],"nice":false,"zero":false},"axis":{"values":[0,1,2,3,4,5,6,7,8,9,10,11,12,13,14,15,16,17,18,19,20,21,22,23,24,25,26,27,28,29,30],"labelExpr":"datum.value%5===0 ? format(datum.value,'d') : ''","tickSize":{"condition":{"test":"datum.value%5===0","value":-8},"value":-4},"labelPadding":11,"labelFlush":false,"labelOverlap":false,"title":"RMS (μm)","titlePadding":21}}
},
"layer":[
{"data":{"name":"curves"},"transform":[{"filter":"datum.panel==='TR'"}],"mark":{"type":"line","interpolate":"monotone","strokeWidth":1.6,"clip":true},"encoding":{"color":{"field":"dose","type":"nominal","scale":{"domain":["4.8","2.4","0.0"],"range":["#5cb848","#e8291f","#4657a8"]},"legend":null},"strokeDash":{"field":"charge","type":"nominal","scale":{"domain":["lt","gt"],"range":[[1,0],[9,6]]},"legend":null}}},
{"data":{"name":"keys"},"transform":[{"filter":"datum.panel==='TR'"}],"mark":{"type":"line","strokeWidth":1.6},"encoding":{"color":{"field":"dose","type":"nominal","legend":null},"strokeDash":{"field":"charge","type":"nominal","legend":null}}},
{"data":{"name":"keytext"},"transform":[{"filter":"datum.panel==='TR'"}],"mark":{"type":"text","font":"DejaVu Sans Mono","fontWeight":"bold","align":"left","baseline":"alphabetic"},"encoding":{"text":{"field":"label","type":"nominal"},"color":{"field":"dose","type":"nominal","legend":null},"size":{"field":"kind","type":"nominal","scale":{"domain":["main","small"],"range":[18,11]},"legend":null}}},
{"data":{"values":[{"eta":1.052,"rms":15.26,"label":"CMS"}]},"mark":{"type":"text","font":"Lato","fontSize":33,"align":"left","baseline":"alphabetic","color":"#111"},"encoding":{"text":{"field":"label","type":"nominal"}}},
{"data":{"values":[{"eta":1.535,"rms":15.26,"label":"Simulation"}]},"mark":{"type":"text","font":"Lato","fontSize":33,"fontStyle":"italic","align":"left","baseline":"alphabetic","color":"#111"},"encoding":{"text":{"field":"label","type":"nominal"}}},
{"data":{"values":[{"eta":2.452,"rms":25.0,"label":"(b)"}]},"mark":{"type":"text","font":"Liberation Sans","fontSize":21,"fontWeight":"bold","align":"right","baseline":"middle","color":"#111"},"encoding":{"text":{"field":"label","type":"nominal"}}},
{"data":{"values":[{"eta":1.248,"rms":0.87,"label":"Thr=1500e"}]},"mark":{"type":"text","font":"DejaVu Serif","fontSize":21,"align":"center","baseline":"alphabetic","color":"#c763ad"},"encoding":{"text":{"field":"label","type":"nominal"}}}
]
},
{
"width":437,"height":438,
"title":{"text":"Barrel Z−Hit Resolution"},
"encoding":{
"x":{"field":"eta","type":"quantitative","scale":{"domain":[0,2.5],"nice":false,"zero":false},"axis":{"values":[0,0.1,0.2,0.3,0.4,0.5,0.6,0.7,0.8,0.9,1,1.1,1.2,1.3,1.4,1.5,1.6,1.7,1.8,1.9,2,2.1,2.2,2.3,2.4,2.5],"labelExpr":"abs(datum.value*2-round(datum.value*2))<0.01 ? format(datum.value,'.1f') : ''","tickSize":{"condition":{"test":"abs(datum.value*2-round(datum.value*2))<0.01","value":-8},"value":-4},"labelPadding":12,"labelFlush":false,"labelOverlap":false,"title":"|η|","titleFontStyle":"italic","titleFontSize":22,"titlePadding":6}},
"y":{"field":"rms","type":"quantitative","scale":{"domain":[0,40],"nice":false,"zero":false},"axis":{"values":[0,2,4,6,8,10,12,14,16,18,20,22,24,26,28,30,32,34,36,38,40],"labelExpr":"datum.value%10===0 ? format(datum.value,'d') : ''","tickSize":{"condition":{"test":"datum.value%10===0","value":-8},"value":-4},"labelPadding":11,"labelFlush":false,"labelOverlap":false,"title":"RMS (μm)","titlePadding":21}}
},
"layer":[
{"data":{"name":"curves"},"transform":[{"filter":"datum.panel==='BL'"}],"mark":{"type":"line","interpolate":"monotone","strokeWidth":1.6,"clip":true},"encoding":{"color":{"field":"dose","type":"nominal","scale":{"domain":["4.8","2.4","0.0"],"range":["#5cb848","#e8291f","#4657a8"]},"legend":null},"strokeDash":{"field":"charge","type":"nominal","scale":{"domain":["lt","gt"],"range":[[1,0],[9,6]]},"legend":null}}},
{"data":{"values":[{"eta":0.092,"rms":35.9,"label":"CMS"}]},"mark":{"type":"text","font":"Lato","fontSize":33,"align":"left","baseline":"alphabetic","color":"#111"},"encoding":{"text":{"field":"label","type":"nominal"}}},
{"data":{"values":[{"eta":0.564,"rms":35.9,"label":"Simulation"}]},"mark":{"type":"text","font":"Lato","fontSize":33,"fontStyle":"italic","align":"left","baseline":"alphabetic","color":"#111"},"encoding":{"text":{"field":"label","type":"nominal"}}},
{"data":{"values":[{"eta":2.459,"rms":34.0,"label":"(a)"}]},"mark":{"type":"text","font":"Liberation Sans","fontSize":20,"fontWeight":"bold","align":"right","baseline":"middle","color":"#111"},"encoding":{"text":{"field":"label","type":"nominal"}}},
{"data":{"values":[{"eta":0.092,"rms":4.77,"label":"Thin Phase2 Detector"}]},"mark":{"type":"text","font":"Liberation Sans","fontSize":24,"fontWeight":"bold","align":"left","baseline":"alphabetic","color":"#111"},"encoding":{"text":{"field":"label","type":"nominal"}}},
{"data":{"values":[{"eta":0.092,"rms":2.15,"label":"50x100x100 μm pixels"}]},"mark":{"type":"text","font":"Liberation Sans","fontSize":24,"fontWeight":"bold","align":"left","baseline":"alphabetic","color":"#d45aab"},"encoding":{"text":{"field":"label","type":"nominal"}}},
{"data":{"values":[{"eta":1.265,"rms":26.4,"rms2":40}]},"mark":{"type":"rule","strokeWidth":8,"color":"#c4212b"},"encoding":{"y2":{"field":"rms2"}}}
]
},
{
"width":437,"height":438,
"title":{"text":"Barrel ϕ−Hit Resolution"},
"encoding":{
"x":{"field":"eta","type":"quantitative","scale":{"domain":[0,2.5],"nice":false,"zero":false},"axis":{"values":[0,0.1,0.2,0.3,0.4,0.5,0.6,0.7,0.8,0.9,1,1.1,1.2,1.3,1.4,1.5,1.6,1.7,1.8,1.9,2,2.1,2.2,2.3,2.4,2.5],"labelExpr":"abs(datum.value*2-round(datum.value*2))<0.01 ? format(datum.value,'.1f') : ''","tickSize":{"condition":{"test":"abs(datum.value*2-round(datum.value*2))<0.01","value":-8},"value":-4},"labelPadding":12,"labelFlush":false,"labelOverlap":false,"title":"|η|","titleFontStyle":"italic","titleFontSize":22,"titlePadding":6}},
"y":{"field":"rms","type":"quantitative","scale":{"domain":[0,30],"nice":false,"zero":false},"axis":{"values":[0,1,2,3,4,5,6,7,8,9,10,11,12,13,14,15,16,17,18,19,20,21,22,23,24,25,26,27,28,29,30],"labelExpr":"datum.value%5===0 ? format(datum.value,'d') : ''","tickSize":{"condition":{"test":"datum.value%5===0","value":-8},"value":-4},"labelPadding":11,"labelFlush":false,"labelOverlap":false,"title":"RMS (μm)","titlePadding":21}}
},
"layer":[
{"data":{"name":"curves"},"transform":[{"filter":"datum.panel==='BR'"}],"mark":{"type":"line","interpolate":"monotone","strokeWidth":1.6,"clip":true},"encoding":{"color":{"field":"dose","type":"nominal","scale":{"domain":["4.8","2.4","0.0"],"range":["#5cb848","#e8291f","#4657a8"]},"legend":null},"strokeDash":{"field":"charge","type":"nominal","scale":{"domain":["lt","gt"],"range":[[1,0],[9,6]]},"legend":null}}},
{"data":{"name":"keys"},"transform":[{"filter":"datum.panel==='BR'"}],"mark":{"type":"line","strokeWidth":1.6},"encoding":{"color":{"field":"dose","type":"nominal","legend":null},"strokeDash":{"field":"charge","type":"nominal","legend":null}}},
{"data":{"name":"keytext"},"transform":[{"filter":"datum.panel==='BR'"}],"mark":{"type":"text","font":"DejaVu Sans Mono","fontWeight":"bold","align":"left","baseline":"alphabetic"},"encoding":{"text":{"field":"label","type":"nominal"},"color":{"field":"dose","type":"nominal","legend":null},"size":{"field":"kind","type":"nominal","scale":{"domain":["main","small"],"range":[18,11]},"legend":null}}},
{"data":{"values":[{"eta":1.058,"rms":15.1,"label":"CMS"}]},"mark":{"type":"text","font":"Lato","fontSize":33,"align":"left","baseline":"alphabetic","color":"#111"},"encoding":{"text":{"field":"label","type":"nominal"}}},
{"data":{"values":[{"eta":1.54,"rms":15.1,"label":"Simulation"}]},"mark":{"type":"text","font":"Lato","fontSize":33,"fontStyle":"italic","align":"left","baseline":"alphabetic","color":"#111"},"encoding":{"text":{"field":"label","type":"nominal"}}},
{"data":{"values":[{"eta":2.458,"rms":25.25,"label":"(b)"}]},"mark":{"type":"text","font":"Liberation Sans","fontSize":21,"fontWeight":"bold","align":"right","baseline":"middle","color":"#111"},"encoding":{"text":{"field":"label","type":"nominal"}}},
{"data":{"values":[{"eta":1.248,"rms":0.81,"label":"Thr=1500e"}]},"mark":{"type":"text","font":"DejaVu Serif","fontSize":21,"align":"center","baseline":"alphabetic","color":"#c763ad"},"encoding":{"text":{"field":"label","type":"nominal"}}}
]
}
],
"config":{
"view":{"stroke":"#1a1a1a","strokeWidth":2},
"axis":{"grid":false,"domain":false,"labelFont":"Liberation Sans","labelFontWeight":"bold","labelFontSize":17,"labelColor":"#111","tickColor":"#222","tickWidth":1.5,"titleFont":"DejaVu Serif","titleFontWeight":"normal","titleColor":"#4a5ca8","titleFontSize":20},
"title":{"font":"DejaVu Serif","fontSize":34,"fontWeight":"normal","color":"#4a5ca8","anchor":"middle","frame":"group","offset":-12,"baseline":"alphabetic"}
}
}
